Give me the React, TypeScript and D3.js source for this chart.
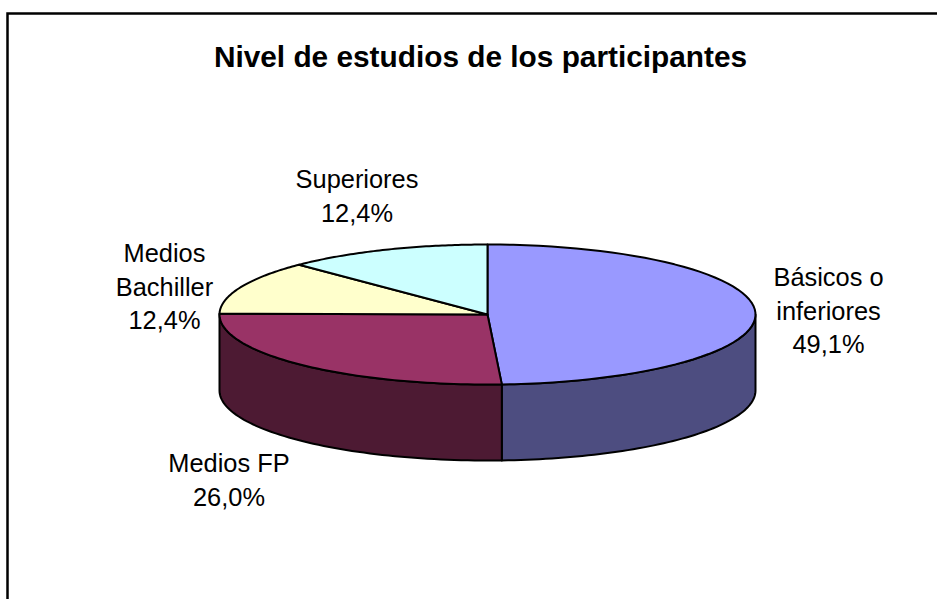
import React from "react";
import * as d3 from "d3";

const categories = ["Básicos o inferiores", "Medios FP", "Medios Bachiller", "Superiores"];
const values = [49.1, 26.0, 12.4, 12.4];
const topColors = ["#9999FF", "#993366", "#FFFFCC", "#CCFFFF"];
const sideColors = ["#4D4D80", "#4D1A33", "#808066", "#668080"];
const labelLines = [["Básicos o", "inferiores", "49,1%"], ["Medios FP", "26,0%"], ["Medios", "Bachiller", "12,4%"], ["Superiores", "12,4%"]];
const labelAnchors: [number, number][] = [[828.5, 286], [229, 472], [164.5, 262], [357, 188]];
const title = "Nivel de estudios de los participantes";

const W = 937, H = 599;
const cx = 487.5, cy = 314.5, rx = 268, ry = 70, depth = 76;
const font = "'Liberation Sans', Arial, sans-serif";

const pieGen = d3.pie<number>().sort(null).startAngle(0).endAngle(2 * Math.PI);
const arcs = pieGen(values);

const rim = (a: number): [number, number] => [cx + rx * Math.sin(a), cy - ry * Math.cos(a)];
const steps = (a0: number, a1: number) => d3.range(0, 65).map((i) => a0 + ((a1 - a0) * i) / 64);

const lineGen = d3.line<[number, number]>();
const wall = d3.area<number>()
  .x((a) => rim(a)[0])
  .y0((a) => rim(a)[1])
  .y1((a) => rim(a)[1] + depth);

function topPath(a0: number, a1: number) {
  return lineGen([[cx, cy], ...steps(a0, a1).map(rim)]) + "Z";
}

function wallPath(a0: number, a1: number) {
  const from = Math.max(a0, Math.PI / 2);
  const to = Math.min(a1, (3 * Math.PI) / 2);
  if (to <= from) return null;
  return wall(steps(from, to));
}

export default function App() {
  return (
    <svg width={W} height={H} style={{ position: "fixed", left: 0, top: 0, background: "#fff" }}>
      <path d={`M7.5,${H}V13.5H${W}`} fill="none" stroke="#000" strokeWidth={2.5} />
      <text x={480.5} y={66.5} textAnchor="middle" fontFamily={font} fontWeight="bold" fontSize={29.8} fill="#000">
        {title}
      </text>
      {arcs.map((d, i) => {
        const p = wallPath(d.startAngle, d.endAngle);
        return p ? <path key={i} d={p} fill={sideColors[i]} stroke="#000" strokeWidth={2} strokeLinejoin="round" /> : null;
      })}
      {arcs.map((d, i) => (
        <path key={i} d={topPath(d.startAngle, d.endAngle)} fill={topColors[i]} stroke="#000" strokeWidth={2} strokeLinejoin="round" />
      ))}
      {labelLines.map((lines, i) => (
        <text key={i} textAnchor="middle" fontFamily={font} fontSize={25.4} fill="#000">
          {lines.map((t, j) => (
            <tspan key={j} x={labelAnchors[i][0]} y={labelAnchors[i][1] + j * 33.5}>
              {t}
            </tspan>
          ))}
        </text>
      ))}
    </svg>
  );
}
